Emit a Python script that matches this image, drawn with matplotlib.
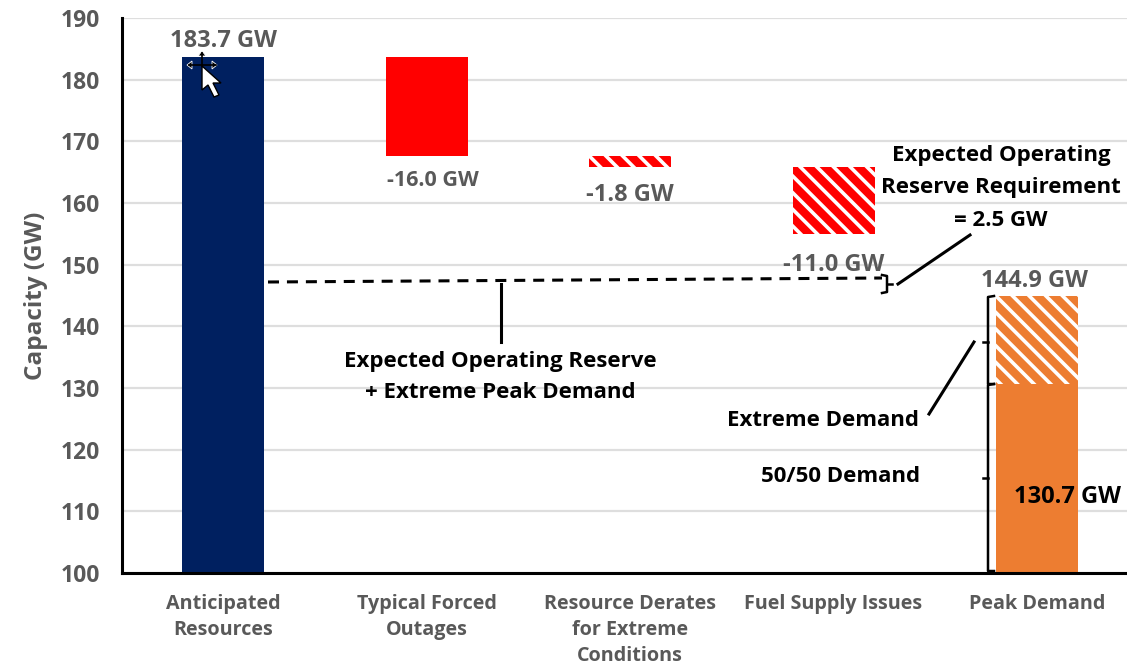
import matplotlib
matplotlib.use("Agg")
import matplotlib.pyplot as plt
from matplotlib.lines import Line2D
from matplotlib.patches import Polygon
from matplotlib.transforms import Affine2D

W, H = 1127, 666
plt.rcParams['font.family'] = ['Open Sans', 'DejaVu Sans']
plt.rcParams['font.weight'] = 'bold'
plt.rcParams['hatch.linewidth'] = 2.6
plt.rcParams['hatch.color'] = 'white'

categories = ["Anticipated\nResources", "Typical Forced\nOutages",
              "Resource Derates\nfor Extreme\nConditions", "Fuel Supply Issues", "Peak Demand"]
bar_bottoms = [100, 167.7, 165.9, 154.9, 100]
bar_tops = [183.7, 183.7, 167.7, 165.9, 130.7]
bar_colors = ["#002060", "#ff0000", "#ff0000", "#ff0000", "#ed7d31"]
bar_hatched = [False, False, True, True, False]
extreme_bottom = 130.7
extreme_top = 144.9
value_labels = ["183.7 GW", "-16.0 GW", "-1.8 GW", "-11.0 GW", "144.9 GW"]
yticks = list(range(100, 200, 10))

GREY = "#595959"
fig = plt.figure(figsize=(W / 100, H / 100), dpi=100)
ax = fig.add_axes([122 / W, 1 - 573 / H, (W - 122) / W, (573 - 18) / H])
ax.set_xlim(-0.4975, 4.4425)
ax.set_ylim(100, 190)
ax.set_axisbelow(True)
ax.grid(axis='y', color='#dedede', lw=1.6)
for s in ('top', 'right'):
    ax.spines[s].set_visible(False)
for s in ('left', 'bottom'):
    ax.spines[s].set_linewidth(2.2)
ax.tick_params(axis='y', length=0, labelsize=16.5, labelcolor=GREY, pad=16)
ax.tick_params(axis='x', length=0, labelsize=14.2, labelcolor=GREY, pad=15)
ax.set_yticks(yticks)
ax.set_xticks(range(len(categories)))
ax.set_xticklabels(categories, linespacing=1.42)
ax.set_ylabel("Capacity (GW)", fontsize=17.5, color=GREY, labelpad=9, fontweight='bold')

# Waterfall bars: solid or striped depending on the step
for i, (b, t, c, h) in enumerate(zip(bar_bottoms, bar_tops, bar_colors, bar_hatched)):
    ax.bar(i, t - b, bottom=b, width=0.403, color=c,
           hatch='\\\\' if h else None, edgecolor='white' if h else c, lw=0)
ax.bar(4, extreme_top - extreme_bottom, bottom=extreme_bottom, width=0.403,
       color=bar_colors[4], hatch='\\\\', edgecolor='white', lw=0)

# Value labels next to their bars
label_y = [bar_tops[0], bar_bottoms[1], bar_bottoms[2], bar_bottoms[3], extreme_top]
label_va = ['bottom', 'top', 'top', 'top', 'bottom']
label_off = [(0, 4), (6, -14), (0, -16), (0, -19), (-2, 3)]
label_size = [17, 15.5, 17, 17, 17]
for i, (txt, y, va, off, fs) in enumerate(zip(value_labels, label_y, label_va, label_off, label_size)):
    ax.annotate(txt, (i, y), xytext=off, textcoords='offset pixels', ha='center', va=va,
                fontsize=fs, color=GREY, fontweight='bold')

# Callouts are placed in pixel space, y running downward
px = Affine2D().scale(1 / W, -1 / H).translate(0, 1) + fig.transFigure

def stroke(xs, ys, lw=2.2, **kw):
    fig.add_artist(Line2D(xs, ys, transform=px, color='black', lw=lw, **kw))

def note(x, y, s, size=16, **kw):
    fig.text(x, y, s, transform=px, ha='center', va='center', fontsize=size, color='black', **kw)

stroke([268, 882], [282, 278], dashes=(3.6, 2.6))
stroke([501, 501], [284, 342])
stroke([898, 970], [284, 235])
stroke([929, 974], [414, 342])
stroke([882, 887, 887, 882], [275, 276, 292, 293], lw=1.8)
stroke([887, 892], [284, 284], lw=1.8)
stroke([994, 988, 988, 994], [296, 297, 384, 384], lw=1.8)
stroke([983, 988], [342, 342], lw=1.8)
stroke([994, 988, 988, 994], [384, 385, 571, 571], lw=1.8)
stroke([983, 988], [478, 478], lw=1.8)

note(1001, 156, "Expected Operating")
note(1001, 188, "Reserve Requirement")
note(1001, 221, "= 2.5 GW")
note(500, 361, "Expected Operating Reserve")
note(500, 393, "+ Extreme Peak Demand")
note(823, 421, "Extreme Demand")
note(841, 476, "50/50 Demand")
note(1067, 497, "130.7 GW", size=17)

# Pointer cursor over the first bar
arrow = [(202, 66), (202, 90), (208, 85), (214, 97), (219, 95), (213, 83), (221, 83)]
fig.add_artist(Polygon(arrow, closed=True, transform=px, fc='white', ec='black', lw=1))
stroke([189, 216], [65, 65], lw=1.2)
stroke([202, 202], [53, 66], lw=1.2)
for tri in ([(202, 51), (198, 56), (206, 56)], [(187, 65), (192, 61), (192, 69)], [(217, 65), (212, 61), (212, 69)]):
    fig.add_artist(Polygon(tri, closed=True, transform=px, fc='black', ec='white', lw=0.6))

fig.savefig("out.png", dpi=100)
